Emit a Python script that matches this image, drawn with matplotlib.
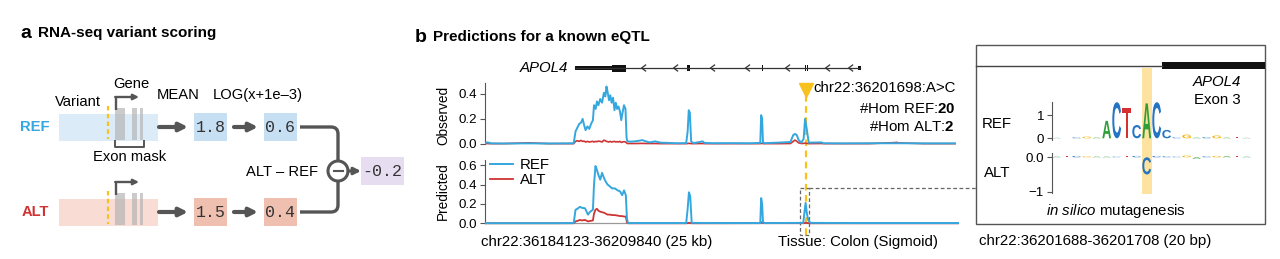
import matplotlib
matplotlib.use("Agg")
import matplotlib.pyplot as plt
from matplotlib.patches import Rectangle, Circle, PathPatch
from matplotlib.path import Path
from matplotlib.textpath import TextPath
from matplotlib.font_manager import FontProperties
from matplotlib import transforms

plt.rcParams['font.family'] = ['Liberation Sans', 'DejaVu Sans']
plt.rcParams['mathtext.fontset'] = 'custom'
plt.rcParams['mathtext.rm'] = 'Liberation Sans'
plt.rcParams['mathtext.bf'] = 'Liberation Sans:bold'
plt.rcParams['mathtext.it'] = 'Liberation Sans:italic'

W, H = 1280, 259
BLUE = '#35a7df'
RED = '#cf3434'
GOLD = '#f7c21d'
DARK = '#555555'
FS = 10.8

# --------------------------
# PANEL A DATA
# --------------------------
row_names = ['REF', 'ALT']
mean_vals = [1.8, 1.5]
log_vals = [0.6, 0.4]
delta_val = -0.2

# --------------------------
# PANEL B DATA (positions in kb from region start)
# --------------------------
region_start = 36184123
region_end = 36209840
variant_pos = 36201698
tissue = 'Colon (Sigmoid)'
hom_ref, hom_alt = 20, 2

obs_kb = [0, 0.1, 0.2, 0.35, 1.0,
          2.4, 3.5, 4.5, 4.85, 4.95,
          5.05, 5.15, 5.25, 5.34, 5.42,
          5.5, 5.6, 5.7, 5.8, 5.9,
          5.96, 6.05, 6.12, 6.2, 6.3,
          6.4, 6.5, 6.58, 6.64, 6.7,
          6.78, 6.85, 6.92, 7.0, 7.08,
          7.15, 7.22, 7.3, 7.38, 7.45,
          7.52, 7.6, 7.68, 7.74, 7.78,
          8.0, 8.3, 8.6, 8.8, 9.0,
          9.3, 9.6, 10.0, 10.5, 11.0,
          11.08, 11.14, 11.2, 11.27, 11.4,
          11.9, 12.0, 12.5, 13.5, 14.5,
          15.05, 15.1, 15.15, 15.2, 15.3,
          16.0, 16.7, 16.85, 16.95, 17.05,
          17.15, 17.3, 17.42, 17.5, 17.58,
          17.7, 18.4, 18.5, 19.5, 21.0,
          22.4, 22.5, 22.6, 24.0, 25.7]
obs_ref = [0.005, 0.012, 0.01, 0.004, 0.003,
           0.004, 0.003, 0.004, 0.005, 0.10,
           0.13, 0.16, 0.17, 0.20, 0.15,
           0.11, 0.14, 0.12, 0.16, 0.19,
           0.31, 0.28, 0.34, 0.31, 0.36,
           0.33, 0.41, 0.38, 0.46, 0.42,
           0.35, 0.39, 0.33, 0.37, 0.27,
           0.33, 0.28, 0.30, 0.26, 0.19,
           0.25, 0.31, 0.28, 0.05, 0.02,
           0.018, 0.022, 0.03, 0.02, 0.012,
           0.02, 0.01, 0.008, 0.005, 0.006,
           0.10, 0.27, 0.25, 0.02, 0.006,
           0.02, 0.008, 0.005, 0.006, 0.005,
           0.008, 0.23, 0.20, 0.01, 0.006,
           0.01, 0.015, 0.07, 0.08, 0.07,
           0.03, 0.01, 0.04, 0.20, 0.13,
           0.01, 0.012, 0.005, 0.004, 0.005,
           0.005, 0.005, 0.005, 0.004, 0.004]
obs_alt = [0.002, 0.003, 0.002, 0.002, 0.002,
           0.008, 0.002, 0.002, 0.002, 0.02,
           0.025, 0.02, 0.028, 0.02, 0.022,
           0.015, 0.02, 0.015, 0.018, 0.02,
           0.015, 0.02, 0.018, 0.022, 0.02,
           0.015, 0.03, 0.025, 0.02, 0.018,
           0.015, 0.02, 0.015, 0.018, 0.02,
           0.015, 0.018, 0.015, 0.02, 0.012,
           0.015, 0.018, 0.015, 0.008, 0.003,
           0.003, 0.003, 0.004, 0.003, 0.003,
           0.003, 0.002, 0.002, 0.002, 0.002,
           0.003, 0.004, 0.004, 0.002, 0.002,
           0.003, 0.002, 0.002, 0.002, 0.002,
           0.002, 0.004, 0.004, 0.002, 0.002,
           0.002, 0.003, 0.02, 0.03, 0.02,
           0.008, 0.003, 0.004, 0.006, 0.004,
           0.002, 0.003, 0.002, 0.002, 0.002,
           0.01, 0.012, 0.008, 0.002, 0.002]

pred_kb = [0, 2, 4, 4.85, 4.95,
           5.05, 5.19, 5.3, 5.47, 5.63,
           5.75, 5.9, 5.96, 6.04, 6.12,
           6.2, 6.3, 6.4, 6.5, 6.6,
           6.7, 6.83, 6.95, 7.1, 7.25,
           7.38, 7.5, 7.6, 7.7, 7.76,
           7.82, 9, 11.0, 11.08, 11.15,
           11.22, 11.3, 13, 15.05, 15.1,
           15.15, 15.2, 15.3, 17.4, 17.47,
           17.53, 17.6, 17.68, 17.8, 20,
           23, 25.9]
pred_ref = [0.002, 0.002, 0.002, 0.003, 0.14,
            0.15, 0.17, 0.16, 0.155, 0.09,
            0.12, 0.14, 0.40, 0.59, 0.55,
            0.50, 0.45, 0.52, 0.47, 0.43,
            0.40, 0.38, 0.36, 0.36, 0.34,
            0.33, 0.29, 0.34, 0.29, 0.05,
            0.003, 0.003, 0.003, 0.15, 0.32,
            0.28, 0.005, 0.003, 0.003, 0.26,
            0.20, 0.01, 0.003, 0.005, 0.12,
            0.21, 0.10, 0.03, 0.005, 0.003,
            0.003, 0.003]
pred_alt = [0.001, 0.001, 0.001, 0.001, 0.02,
            0.025, 0.035, 0.03, 0.035, 0.02,
            0.025, 0.03, 0.10, 0.14, 0.15,
            0.13, 0.12, 0.115, 0.11, 0.10,
            0.09, 0.09, 0.085, 0.085, 0.08,
            0.075, 0.075, 0.07, 0.07, 0.01,
            0.001, 0.001, 0.001, 0.003, 0.005,
            0.004, 0.001, 0.001, 0.002, 0.012,
            0.01, 0.004, 0.002, 0.002, 0.004,
            0.006, 0.004, 0.002, 0.001, 0.001,
            0.001, 0.001]

# APOL4 gene model (kb)
gene_start, gene_end = 4.92, 20.5
block_start = [4.92, 6.94, 11.07, 15.12, 17.50, 17.60, 20.42]
block_end = [6.94, 7.71, 11.23, 15.18, 17.55, 17.68, 20.58]
block_height = [4, 7, 6, 6, 6, 6, 4]
chevron_kb = [8.64, 10.39, 12.41, 14.32, 16.51, 18.70, 19.96]

# in silico mutagenesis logo (20 bp window)
logo_seq = 'ATCGAACTCACCCGACGATA'
ref_heights = [0.02, 0.03, 0.04, 0.07, 0.03, 0.75, 1.55, 1.3, 0.57, 1.5,
               1.55, 0.36, 0.04, 0.16, 0.03, 0.05, 0.12, 0.03, 0.05, 0.02]
alt_heights = [0.02, 0.03, 0.04, 0.03, 0.02, 0.02, 0.02, 0.04, 0.04, -0.5,
               0.04, 0.03, 0.02, 0.05, -0.04, 0.03, 0.04, 0.03, 0.04, 0.02]
variant_idx = 9
base_colors = {'A': '#2f9e3a', 'C': '#2474c4', 'G': '#f4b400', 'T': '#d62f2f'}


def px_rect(x0, y0, x1, y1):
    return [x0 / W, 1 - y1 / H, (x1 - x0) / W, (y1 - y0) / H]


fig = plt.figure(figsize=(W / 100, H / 100), dpi=100)
ax0 = fig.add_axes([0, 0, 1, 1], zorder=0)
ax0.set_xlim(0, W)
ax0.set_ylim(H, 0)
ax0.axis('off')

# --------------------------
# PANEL A
# --------------------------
ax0.text(20, 33, 'a', fontsize=14, fontweight='bold', va='center')
ax0.text(38, 33, 'RNA-seq variant scoring', fontsize=11, fontweight='bold', va='center')

row_y = [127, 212]
name_colors = [BLUE, RED]
bar_fill = ['#dcebf8', '#f9ddd4']
box_fill = ['#c7dff3', '#efc0b0']
arrow_kw = dict(arrowstyle='-|>', color=DARK, lw=3, mutation_scale=12, shrinkA=0, shrinkB=0)

for i, name in enumerate(row_names):
    y = row_y[i]
    ax0.text(35, y, name, color=name_colors[i], fontweight='bold', fontsize=10.6,
             ha='center', va='center')
    ax0.add_patch(Rectangle((59, y - 13.5), 99, 27, fc=bar_fill[i], ec='none'))
    for gx, gw in [(115, 10), (132, 5), (140, 3)]:
        ax0.add_patch(Rectangle((gx, y - 19), gw, 32, fc='#b5b5b5', alpha=0.7, ec='none'))
    ax0.plot([108, 108], [y - 21, y + 12], ls=(0, (2, 1.5)), color=GOLD, lw=1.6)
    ax0.plot([116, 116], [y - 17, y - 30], color=DARK, lw=1.7, solid_capstyle='butt')
    ax0.annotate('', xy=(139, y - 30), xytext=(115.2, y - 30),
                 arrowprops=dict(arrowstyle='-|>', color=DARK, lw=1.7, mutation_scale=8,
                                 shrinkA=0, shrinkB=0))
    ax0.annotate('', xy=(188, y), xytext=(159, y), arrowprops=arrow_kw)
    ax0.add_patch(Rectangle((194, y - 14), 33, 28, fc=box_fill[i], ec='none'))
    ax0.text(210.5, y + 0.5, f'{mean_vals[i]:.1f}', family='Liberation Mono', fontsize=12,
             ha='center', va='center', color='#333333')
    ax0.annotate('', xy=(258, y), xytext=(234, y), arrowprops=arrow_kw)
    ax0.add_patch(Rectangle((264, y - 14), 33, 28, fc=box_fill[i], ec='none'))
    ax0.text(280.5, y + 0.5, f'{log_vals[i]:.1f}', family='Liberation Mono', fontsize=12,
             ha='center', va='center', color='#333333')

# connectors into the difference node
cx, cy, cr = 338, 171, 10
for y, sgn in [(row_y[0], 1), (row_y[1], -1)]:
    verts = [(300, y), (331, y), (cx, y), (cx, y + 7 * sgn), (cx, cy - cr * sgn)]
    codes = [Path.MOVETO, Path.LINETO, Path.CURVE3, Path.CURVE3, Path.LINETO]
    ax0.add_patch(PathPatch(Path(verts, codes), fill=False, ec=DARK, lw=2.4))
ax0.add_patch(Circle((cx, cy), cr, fc='white', ec=DARK, lw=2.2))
ax0.plot([cx - 4.5, cx + 4.5], [cy, cy], color=DARK, lw=1.5)
ax0.annotate('', xy=(361, cy), xytext=(cx + cr, cy),
             arrowprops=dict(arrowstyle='-|>', color=DARK, lw=2.2, mutation_scale=10,
                             shrinkA=0, shrinkB=0))
ax0.add_patch(Rectangle((361, cy - 14), 43, 28, fc='#e6def0', ec='none'))
ax0.text(382.5, cy + 0.5, f'{delta_val:.1f}', family='Liberation Mono', fontsize=12,
         ha='center', va='center', color='#333333')

ax0.text(101, 102, 'Variant', fontsize=10.6, ha='right', va='center')
ax0.text(113, 84, 'Gene', fontsize=10.6, ha='left', va='center')
ax0.text(178, 95, 'MEAN', fontsize=10.6, ha='center', va='center')
ax0.text(257.5, 95, 'LOG(x+1e\u20133)', fontsize=10.6, ha='center', va='center')
ax0.plot([115, 115, 144, 144], [141, 147, 147, 141], color=DARK, lw=1.4)
ax0.text(129.5, 157, 'Exon mask', fontsize=10.6, ha='center', va='center')
ax0.text(318, 172, 'ALT \u2013 REF', fontsize=10.6, ha='right', va='center')

# --------------------------
# PANEL B
# --------------------------
ax0.text(415, 37, 'b', fontsize=14, fontweight='bold', va='center')
ax0.text(433, 37, 'Predictions for a known eQTL', fontsize=11, fontweight='bold', va='center')

X0, X1 = 485, 959
xmax = (X1 - X0) / 18.29


def kb_px(kb):
    return X0 + kb / xmax * (X1 - X0)


# gene track
ax_g = fig.add_axes(px_rect(X0, 58, X1, 78), zorder=2)
ax_g.set_xlim(0, xmax)
ax_g.set_ylim(10, -10)
ax_g.axis('off')
ax_g.plot([gene_start, gene_end], [0, 0], color='#333333', lw=0.9)
for s, e, h in zip(block_start, block_end, block_height):
    ax_g.add_patch(Rectangle((s, -h / 2), e - s, h, fc='#111111', ec='none'))
for c in chevron_kb:
    ax_g.plot([c + 0.14, c - 0.08, c + 0.14], [-3, 0, 3], color='#333333', lw=0.9)
ax0.text(568, 68.5, 'APOL4', fontsize=FS, style='italic', ha='right', va='center')


def style_track(ax, top, ticks):
    ax.set_xlim(0, xmax)
    ax.set_ylim(-0.017, top)
    ax.patch.set_alpha(0)
    for s in ['top', 'right', 'bottom']:
        ax.spines[s].set_visible(False)
    ax.spines['left'].set_color('#555555')
    ax.spines['left'].set_bounds(0, top)
    ax.set_xticks([])
    ax.set_yticks(ticks)
    ax.set_yticklabels([f'{t:.1f}' for t in ticks])
    ax.tick_params(axis='y', length=3.5, width=0.8, color='#555555', pad=2, labelsize=9.6)


ax_o = fig.add_axes(px_rect(X0, 83, X1, 146), zorder=2)
style_track(ax_o, 0.488, [0.0, 0.2, 0.4])
ax_o.plot(obs_kb, obs_alt, color=RED, lw=1.2, zorder=2)
ax_o.plot(obs_kb, obs_ref, color=BLUE, lw=1.4, zorder=3)

ax_p = fig.add_axes(px_rect(X0, 160, X1, 225), zorder=2)
style_track(ax_p, 0.6526, [0.0, 0.2, 0.4, 0.6])
ax_p.axhline(0, color='#999999', lw=0.9, zorder=1)
ax_p.plot(pred_kb, pred_ref, color=BLUE, lw=1.4, zorder=3, label='REF')
ax_p.plot(pred_kb, pred_alt, color=RED, lw=1.3, zorder=2, label='ALT')
ax_p.legend(loc='upper left', bbox_to_anchor=(490, 158), bbox_transform=ax0.transData,
            frameon=False, fontsize=FS, handlelength=1.5, handletextpad=0.5,
            labelspacing=0.05, borderpad=0, borderaxespad=0)

ax0.text(443, 115, 'Observed', fontsize=9.8, rotation=90, ha='center', va='center')
ax0.text(443, 191, 'Predicted', fontsize=9.8, rotation=90, ha='center', va='center')

# variant marker
var_kb = (variant_pos - region_start) / 1000
vx = kb_px(var_kb)
ax0.plot([vx, vx], [95, 236], ls=(0, (3, 2)), color=GOLD, lw=1.6, zorder=1)
ax0.plot([vx], [90], marker='v', ms=10, color=GOLD, mec=GOLD)
ax0.text(vx + 7, 88, f'chr22:{variant_pos}:A>C', fontsize=FS, ha='left', va='center')
ax0.text(955, 109, f'#Hom REF:$\\mathbf{{{hom_ref}}}$', fontsize=FS, ha='right', va='center')
ax0.text(955, 127, f'#Hom ALT:$\\mathbf{{{hom_alt}}}$', fontsize=FS, ha='right', va='center')

ax0.add_patch(Rectangle((vx - 6, 188), 9, 47, fill=False, ec='#666666', lw=0.9, ls=(0, (3, 2))))
ax0.plot([vx + 3, 976], [188, 188], color='#666666', lw=0.9, ls=(0, (3, 2)))

span_kb = (region_end - region_start) // 1000
ax0.text(481, 242, f'chr22:{region_start}-{region_end} ({span_kb} kb)', fontsize=FS,
         ha='left', va='center')
ax0.text(778, 242, f'Tissue: {tissue}', fontsize=FS, ha='left', va='center')

# --------------------------
# INSET: in silico mutagenesis
# --------------------------
ax0.add_patch(Rectangle((976, 45), 289, 179, fill=False, ec='#555555', lw=1.0))
ax0.plot([976, 1162], [65.8, 65.8], color='#444444', lw=1.0)
ax0.add_patch(Rectangle((1162, 62), 103, 7, fc='#111111', ec='none'))
ax0.text(1217, 82, 'APOL4', fontsize=FS, style='italic', ha='center', va='center')
ax0.text(1217, 100, 'Exon 3', fontsize=FS, ha='center', va='center')

LX0, LX1 = 1051.7, 1251.7
step = (LX1 - LX0) / len(logo_seq)
ax0.add_patch(Rectangle((LX0 + variant_idx * step, 68), step, 126, fc='#fde39f', ec='none'))

LOGO_FP = FontProperties(family='Liberation Sans', weight='bold')


def draw_letter(ax, ch, x, h, color, width=0.88):
    tp = TextPath((0, 0), ch, size=1, prop=LOGO_FP)
    bb = tp.get_extents()
    t = (transforms.Affine2D().translate(-bb.x0, -bb.y0)
         .scale(width / bb.width, abs(h) / bb.height)
         .translate(x - width / 2, min(0, h)))
    ax.add_patch(PathPatch(t.transform_path(tp), fc=color, ec='none'))


def style_logo(ax, lo, hi, ticks, labels):
    ax.set_xlim(-0.5, len(logo_seq) - 0.5)
    ax.set_ylim(lo, hi)
    ax.patch.set_alpha(0)
    for s in ['top', 'right', 'bottom']:
        ax.spines[s].set_visible(False)
    ax.spines['left'].set_color('#555555')
    ax.set_xticks([])
    ax.set_yticks(ticks)
    ax.set_yticklabels(labels)
    ax.tick_params(axis='y', length=3.5, width=0.8, color='#555555', pad=2, labelsize=9.6)


ax_lr = fig.add_axes(px_rect(LX0, 102, LX1, 140), zorder=2)
style_logo(ax_lr, -0.073, 1.56, [0, 1], ['0', '1'])
for k, (ch, h) in enumerate(zip(logo_seq, ref_heights)):
    draw_letter(ax_lr, ch, k, h, base_colors[ch])

ax_la = fig.add_axes(px_rect(LX0, 153, LX1, 193), zorder=2)
style_logo(ax_la, -1.04, 0.125, [-1, 0], ['\u22121', '0.0'])
for k, (ch, h) in enumerate(zip(logo_seq, alt_heights)):
    alt_ch = 'C' if k == variant_idx else ch
    draw_letter(ax_la, alt_ch, k, h, base_colors[alt_ch])

ax0.text(997, 124, 'REF', fontsize=FS, ha='center', va='center')
ax0.text(997, 173, 'ALT', fontsize=FS, ha='center', va='center')
ax0.text(1116, 211, r'$\mathit{in\ silico}$ mutagenesis', fontsize=FS, ha='center', va='center')
ax0.text(979, 241, 'chr22:36201688-36201708 (20 bp)', fontsize=FS, ha='left', va='center')

fig.savefig('out.png', dpi=100)
